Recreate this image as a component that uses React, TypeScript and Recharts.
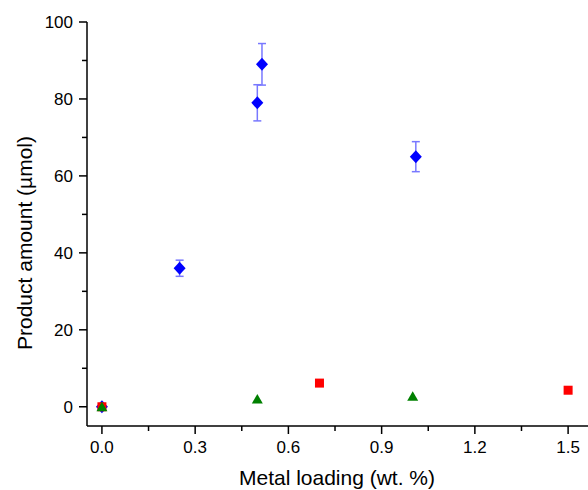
import { ScatterChart, Scatter, XAxis, YAxis, ErrorBar, Label } from 'recharts';

const blueX = [0, 0.25, 0.5, 0.515, 1.01];
const blueY = [0, 36, 79, 89, 65];
const blueErr = [0, 2.1, 4.7, 5.4, 3.9];

const redX = [0, 0.7, 1.5];
const redY = [0, 6.15, 4.3];

const greenX = [0, 0.5, 1.0];
const greenY = [0, 2.0, 2.7];

const xTicks = [0, 0.15, 0.3, 0.45, 0.6, 0.75, 0.9, 1.05, 1.2, 1.35, 1.5];
const xMajor = [0, 0.3, 0.6, 0.9, 1.2, 1.5];
const yTicks = [0, 10, 20, 30, 40, 50, 60, 70, 80, 90, 100];
const yMajor = [0, 20, 40, 60, 80, 100];

const blueData = blueX.map((x, i) => ({ x, y: blueY[i], err: blueErr[i] }));
const redData = redX.map((x, i) => ({ x, y: redY[i] }));
const greenData = greenX.map((x, i) => ({ x, y: greenY[i] }));

const font = 'Arial, "Liberation Sans", sans-serif';

const XTick = (props: any) => {
  const { x, y, payload } = props;
  const major = xMajor.includes(payload.value);
  return (
    <g>
      <line x1={x} x2={x} y1={y} y2={y + (major ? 8 : 5)} stroke="#000" strokeWidth={1.5} />
      {major && (
        <text x={x} y={y + 27} textAnchor="middle" fontSize={17} fontFamily={font} fill="#000">
          {payload.value.toFixed(1)}
        </text>
      )}
    </g>
  );
};

const YTick = (props: any) => {
  const { x, y, payload } = props;
  const major = yMajor.includes(payload.value);
  return (
    <g>
      <line x1={x - (major ? 8 : 5)} x2={x} y1={y} y2={y} stroke="#000" strokeWidth={1.5} />
      {major && (
        <text x={x - 14} y={y} dy="0.35em" textAnchor="end" fontSize={17} fontFamily={font} fill="#000">
          {payload.value}
        </text>
      )}
    </g>
  );
};

const Diamond = (props: any) => {
  const { cx, cy } = props;
  return <polygon points={`${cx},${cy - 6.5} ${cx + 6},${cy} ${cx},${cy + 6.5} ${cx - 6},${cy}`} fill="#0000ff" />;
};

const Square = (props: any) => {
  const { cx, cy } = props;
  return <rect x={cx - 4.5} y={cy - 4.5} width={9} height={9} fill="#ff0000" />;
};

const Triangle = (props: any) => {
  const { cx, cy } = props;
  return <polygon points={`${cx},${cy - 5} ${cx + 5.5},${cy + 4.5} ${cx - 5.5},${cy + 4.5}`} fill="#008000" />;
};

export default function App() {
  return (
    <div style={{ position: 'absolute', left: 0, top: 0, width: 588, height: 490, background: '#fff' }}>
      <ScatterChart width={588} height={490} margin={{ top: 22, right: 0, bottom: 0, left: 0 }}>
        <XAxis
          type="number"
          dataKey="x"
          domain={[-0.048, 1.564]}
          allowDataOverflow
          ticks={xTicks}
          interval={0}
          height={64}
          tickLine={false}
          tickSize={0}
          tickMargin={0}
          tick={<XTick />}
          axisLine={{ stroke: '#000', strokeWidth: 1.5 }}
        >
          <Label
            content={() => (
              <text x={337} y={485} textAnchor="middle" fontSize={21} fontFamily={font} fill="#000">
                Metal loading (wt. %)
              </text>
            )}
          />
        </XAxis>
        <YAxis
          type="number"
          dataKey="y"
          domain={[-5, 100]}
          allowDataOverflow
          ticks={yTicks}
          interval={0}
          width={87}
          tickLine={false}
          tickSize={0}
          tickMargin={0}
          tick={<YTick />}
          axisLine={{ stroke: '#000', strokeWidth: 1.5 }}
        >
          <Label
            content={() => (
              <text
                x={24}
                y={243}
                transform="rotate(-90 24 243)"
                textAnchor="middle"
                dominantBaseline="central"
                fontSize={21}
                fontFamily={font}
                fill="#000"
              >
                Product amount (µmol)
              </text>
            )}
          />
        </YAxis>
        <Scatter data={blueData} shape={<Diamond />} isAnimationActive={false}>
          <ErrorBar dataKey="err" direction="y" width={4} stroke="#7878ff" strokeWidth={1.5} isAnimationActive={false} />
        </Scatter>
        <Scatter data={redData} shape={<Square />} isAnimationActive={false} />
        <Scatter data={greenData} shape={<Triangle />} isAnimationActive={false} />
      </ScatterChart>
    </div>
  );
}
